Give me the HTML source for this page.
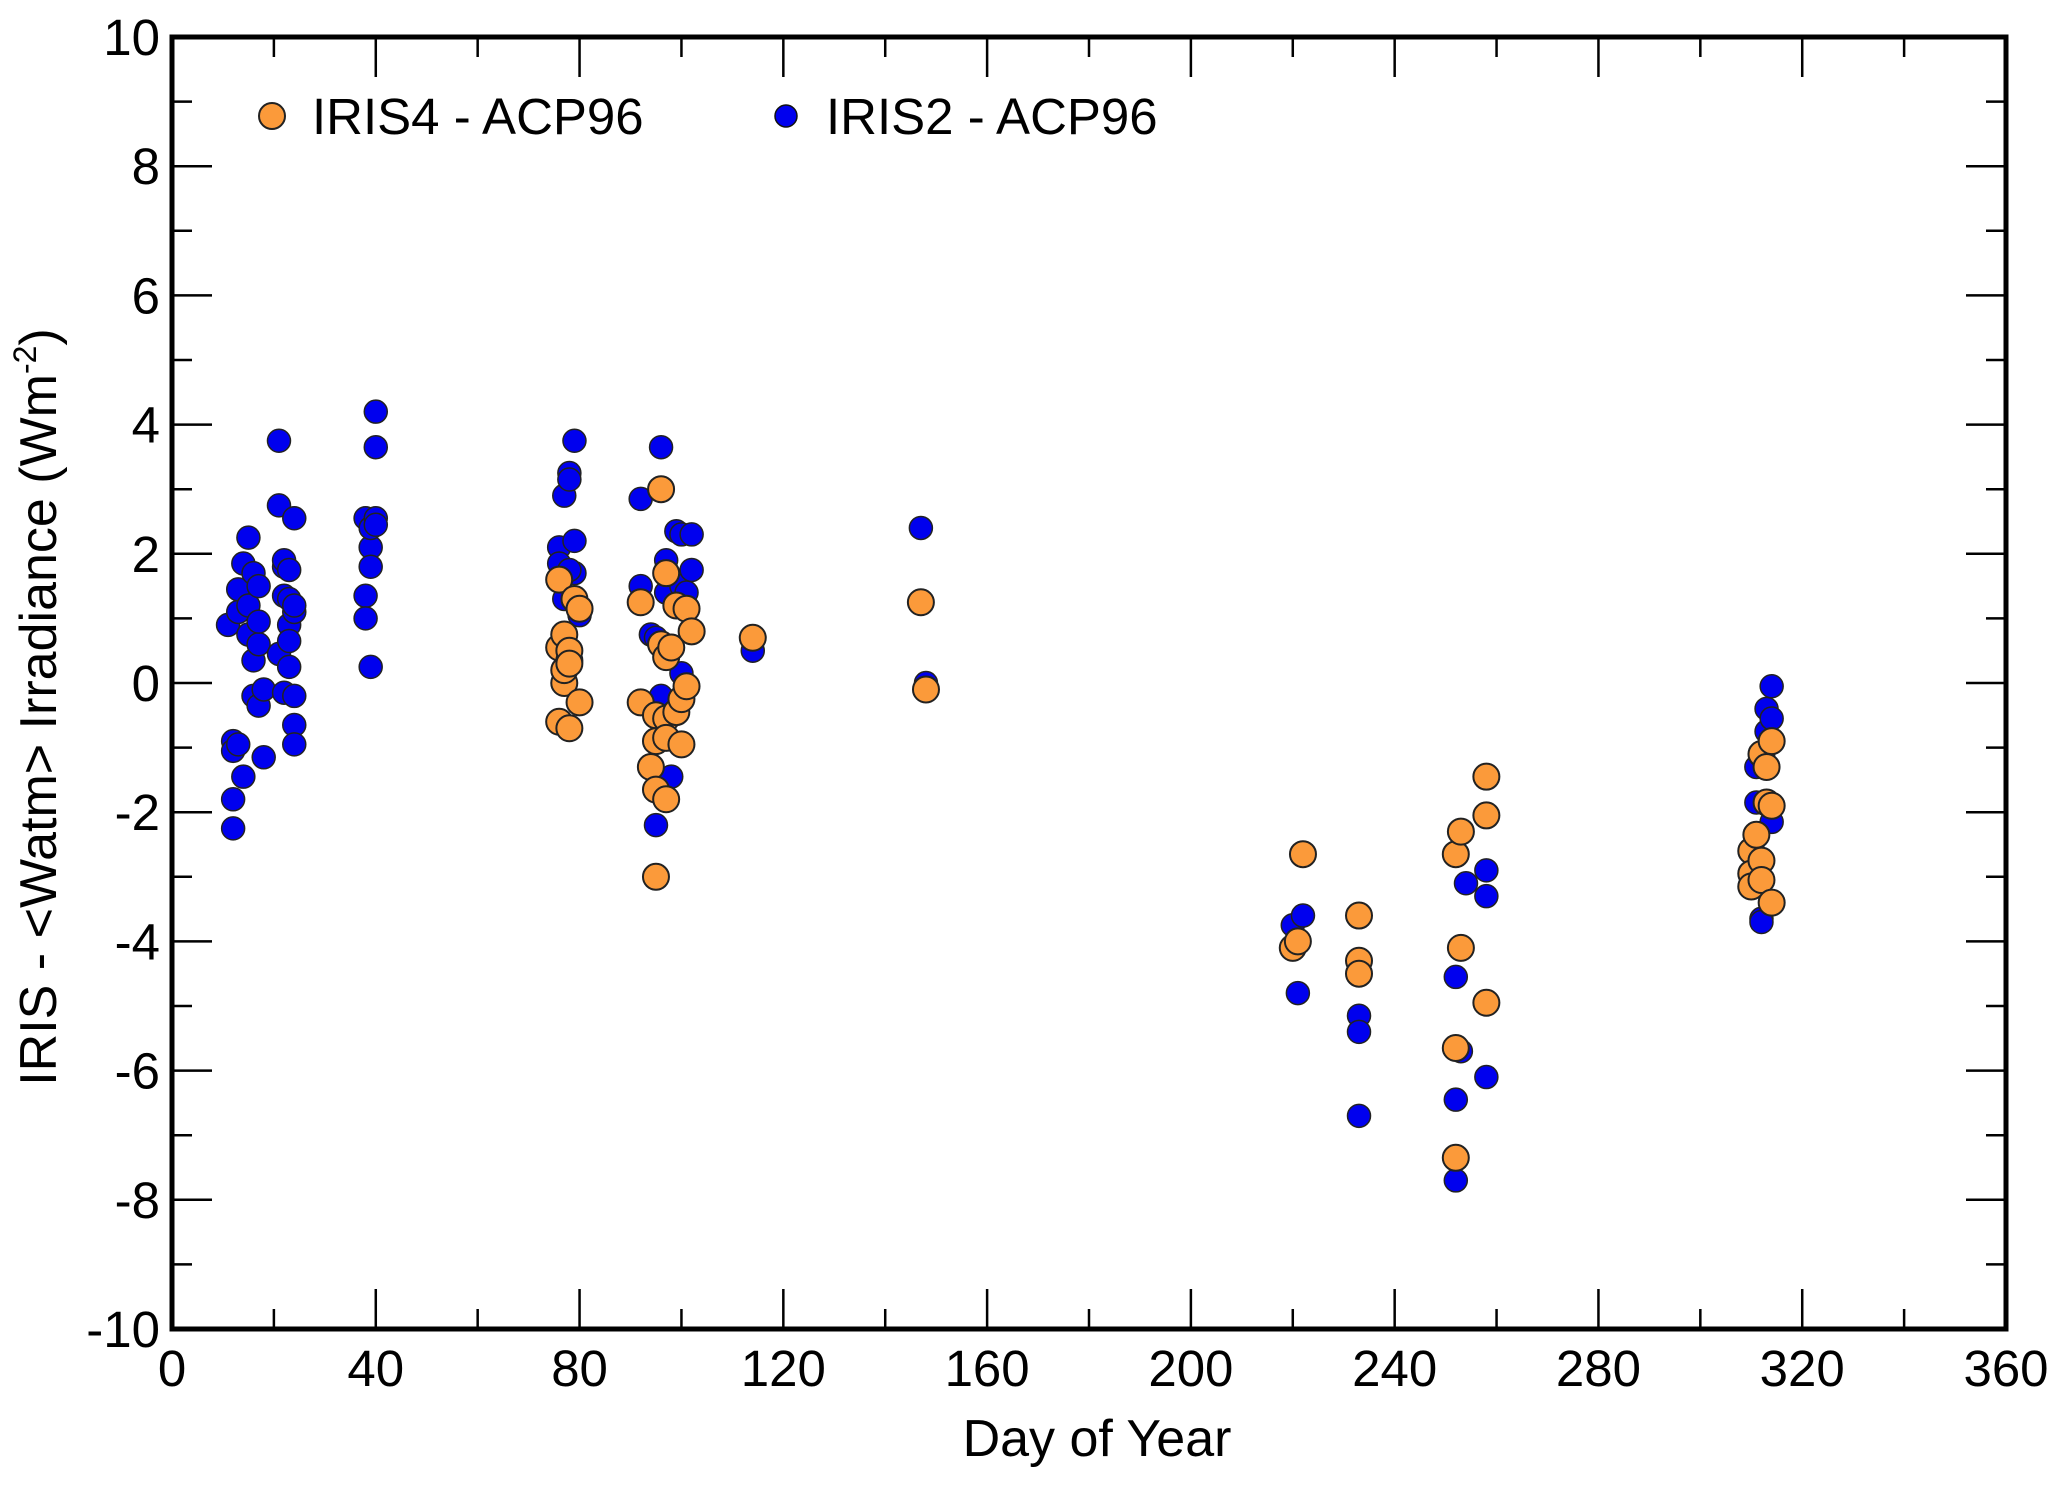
<!DOCTYPE html>
<html><head><meta charset="utf-8"><style>
html,body{margin:0;padding:0;background:#fff;}
svg{display:block;}
text{font-family:"Liberation Sans",Arial,sans-serif;fill:#000;}
</style></head><body>
<svg id="chart" width="2067" height="1487" viewBox="0 0 2067 1487" xmlns="http://www.w3.org/2000/svg">
<g id="grid"></g>
<g id="marks"></g>
<rect x="172" y="37" width="1834" height="1292" fill="none" stroke="#000" stroke-width="5"/>
<g>
<circle cx="272" cy="116" r="13" fill="#fb9a3a" stroke="#222" stroke-width="2"/>
<text x="312" y="134" font-size="51">IRIS4 - ACP96</text>
<circle cx="786" cy="116" r="11" fill="#0000ee" stroke="#111" stroke-width="1.5"/>
<text x="826" y="134" font-size="51">IRIS2 - ACP96</text>
</g>
<text x="1097" y="1456" font-size="52" text-anchor="middle">Day of Year</text>
<text transform="translate(56,707) rotate(-90)" font-size="52" text-anchor="middle">IRIS - &lt;Watm&gt; Irradiance (Wm<tspan font-size="32" dy="-20">-2</tspan><tspan dy="20">)</tspan></text>
</svg>
<script>
const xTicks=[0,40,80,120,160,200,240,280,320,360];
const yTicks=[-10,-8,-6,-4,-2,0,2,4,6,8,10];
const iris2Days=[11,12,12,12,12,13,13,13,14,14,15,15,15,16,16,16,17,17,17,17,18,18,21,21,22,22,21,22,22,23,23,23,23,23,24,24,24,24,24,24,38,38,38,39,39,39,40,40,40,39,40,76,76,77,77,78,78,79,79,79,78,80,92,92,94,95,95,96,96,97,97,98,99,100,100,100,101,102,102,114,147,148,220,221,222,233,233,233,252,252,252,253,254,258,258,258,311,311,312,312,313,313,314,314,314];
const iris2Vals=[0.9,-0.9,-1.05,-1.8,-2.25,-0.95,1.1,1.45,1.85,-1.45,2.25,0.75,1.2,0.35,1.7,-0.2,0.6,-0.35,0.95,1.5,-0.1,-1.15,3.75,2.75,1.8,1.9,0.45,-0.15,1.35,0.9,1.75,0.65,0.25,1.3,-0.2,-0.65,-0.95,1.1,2.55,1.2,2.55,1.35,1.0,2.1,1.8,2.4,4.2,3.65,2.55,0.25,2.45,2.1,1.85,1.3,2.9,3.25,3.15,3.75,2.2,1.7,1.75,1.05,2.85,1.5,0.75,-2.2,0.7,-0.2,3.65,1.9,1.4,-1.45,2.35,2.3,1.5,0.15,1.4,2.3,1.75,0.5,2.4,0.0,-3.75,-4.8,-3.6,-5.15,-5.4,-6.7,-4.55,-6.45,-7.7,-5.7,-3.1,-2.9,-3.3,-6.1,-1.3,-1.85,-3.65,-3.7,-0.4,-0.75,-0.55,-0.05,-2.15];
const iris4Days=[76,76,76,77,77,77,78,78,78,78,79,80,80,92,92,94,95,95,95,95,96,96,97,97,97,97,97,98,99,99,100,100,101,101,102,114,147,148,220,221,222,233,233,233,252,252,252,253,253,258,258,258,310,310,310,311,312,312,312,313,313,314,314,314];
const iris4Vals=[1.6,0.55,-0.6,0.0,0.75,0.2,0.35,0.5,0.3,-0.7,1.3,1.15,-0.3,1.25,-0.3,-1.3,-1.65,-0.5,-0.9,-3.0,3.0,0.6,1.7,0.4,-0.55,-0.85,-1.8,0.55,1.2,-0.45,-0.95,-0.25,-0.05,1.15,0.8,0.7,1.25,-0.1,-4.1,-4.0,-2.65,-3.6,-4.3,-4.5,-2.65,-5.65,-7.35,-2.3,-4.1,-1.45,-2.05,-4.95,-2.6,-2.95,-3.15,-2.35,-2.75,-3.05,-1.1,-1.3,-1.85,-1.9,-0.9,-3.4];
const L=172,R=2006,T=37,B=1329;
const xs=d=>L+(d-0)/(360-0)*(R-L);
const ys=v=>B-(v+10)/20*(B-T);
const NS='http://www.w3.org/2000/svg';
const grid=document.getElementById('grid'),marks=document.getElementById('marks');
function line(x1,y1,x2,y2,w){const l=document.createElementNS(NS,'line');l.setAttribute('x1',x1);l.setAttribute('y1',y1);l.setAttribute('x2',x2);l.setAttribute('y2',y2);l.setAttribute('stroke','#000');l.setAttribute('stroke-width',w);grid.appendChild(l);return l;}
for(let d=20;d<360;d+=20){const maj=d%40===0,len=maj?40:20,x=xs(d);
const a=line(x,B,x,B-len,2.5);


const b=line(x,T,x,T+len,2.5);

}
for(let v=-9;v<10;v++){const maj=v%2===0,len=maj?40:20,y=ys(v);
const a=line(L,y,L+len,y,2.5);


const b=line(R,y,R-len,y,2.5);

}
xTicks.forEach(d=>{const t=document.createElementNS(NS,'text');t.setAttribute('x',xs(d));t.setAttribute('y',1386);t.setAttribute('font-size','51');t.setAttribute('text-anchor','middle');t.textContent=d;


grid.appendChild(t);});
yTicks.forEach(v=>{const t=document.createElementNS(NS,'text');t.setAttribute('x',160);t.setAttribute('y',ys(v)+18);t.setAttribute('font-size','51');t.setAttribute('text-anchor','end');t.textContent=v;


grid.appendChild(t);});
function dot(d,v,r,fill,sw){const c=document.createElementNS(NS,'circle');c.setAttribute('cx',xs(d));c.setAttribute('cy',ys(v));c.setAttribute('r',r);c.setAttribute('fill',fill);c.setAttribute('stroke','#222');c.setAttribute('stroke-width',sw);marks.appendChild(c);return c;}
iris2Days.forEach((d,i)=>{const c=dot(d,iris2Vals[i],11.5,'#0000ee',1.5);

});
iris4Days.forEach((d,i)=>{const c=dot(d,iris4Vals[i],13,'#fb9a3a',2);

});
</script>
</body></html>
